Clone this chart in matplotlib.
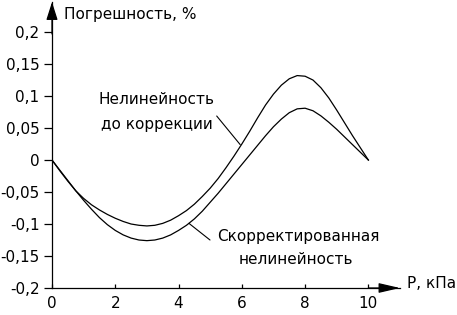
import matplotlib
matplotlib.use("Agg")
import matplotlib.pyplot as plt

# ---- data ----
p_uncorr = [0, 0.25, 0.5, 0.75, 1.0, 1.25, 1.5, 1.75, 2.0, 2.25, 2.5, 2.75, 3.0, 3.25, 3.5, 3.75,
            4.0, 4.25, 4.5, 4.75, 5.0, 5.25, 5.5, 5.75, 6.0, 6.25, 6.5, 6.75, 7.0, 7.25, 7.5, 7.75,
            8.0, 8.25, 8.5, 8.75, 9.0, 9.25, 9.5, 9.75, 10.0]
err_uncorr = [0, -0.017, -0.033, -0.048, -0.060, -0.070, -0.078, -0.085, -0.091, -0.096, -0.100,
              -0.102, -0.103, -0.102, -0.099, -0.094, -0.087, -0.079, -0.069, -0.057, -0.044,
              -0.029, -0.012, 0.006, 0.025, 0.045, 0.066, 0.086, 0.103, 0.117, 0.127, 0.132,
              0.131, 0.125, 0.113, 0.097, 0.078, 0.058, 0.038, 0.019, 0.0]

p_corr = [0, 0.25, 0.5, 0.75, 1.0, 1.25, 1.5, 1.75, 2.0, 2.25, 2.5, 2.75, 3.0, 3.25, 3.5, 3.75,
          4.0, 4.25, 4.5, 4.75, 5.0, 5.25, 5.5, 5.75, 6.0, 6.25, 6.5, 6.75, 7.0, 7.25, 7.5, 7.75,
          8.0, 8.25, 8.5, 8.75, 9.0, 9.25, 9.5, 9.75, 10.0]
err_corr = [0, -0.016, -0.032, -0.048, -0.063, -0.077, -0.090, -0.101, -0.110, -0.117, -0.122,
            -0.125, -0.126, -0.125, -0.122, -0.117, -0.110, -0.102, -0.092, -0.080, -0.066,
            -0.052, -0.037, -0.022, -0.007, 0.008, 0.023, 0.038, 0.052, 0.064, 0.074, 0.080,
            0.081, 0.077, 0.069, 0.059, 0.048, 0.036, 0.024, 0.012, 0.0]

x_ticks = [0, 2, 4, 6, 8, 10]
y_ticks = [-0.2, -0.15, -0.1, -0.05, 0, 0.05, 0.1, 0.15, 0.2]
y_tick_labels = ["-0,2", "-0,15", "-0,1", "-0,05", "0", "0,05", "0,1", "0,15", "0,2"]

y_label = "Погрешность, %"
x_label = "P, кПа"
label_uncorr = ["Нелинейность", "до коррекции"]
label_corr = ["Скорректированная", "нелинейность"]

# ---- figure ----
plt.rcParams['font.family'] = ['DejaVu Sans']
plt.rcParams['font.size'] = 11

W, H = 457, 315
fig = plt.figure(figsize=(W / 100, H / 100), dpi=100)

def fx(px):
    return px / W

def fy(py):
    return 1 - py / H

x_max = 11.0
y_top = 0.247
ax = fig.add_axes([fx(52), fy(288), (400 - 52) / W, (288 - 2) / H])
ax.set_xlim(0, x_max)
ax.set_ylim(-0.2, y_top)

ax.plot(p_uncorr, err_uncorr, color='black', lw=0.9)
ax.plot(p_corr, err_corr, color='black', lw=0.9)

for s in ['top', 'right']:
    ax.spines[s].set_visible(False)
for s in ['left', 'bottom']:
    ax.spines[s].set_linewidth(0.9)

ax.set_xticks(x_ticks)
ax.set_xticklabels([str(v) for v in x_ticks])
ax.set_yticks(y_ticks)
ax.set_yticklabels(y_tick_labels)
ax.tick_params(axis='y', direction='out', length=6, width=0.9, pad=3)
ax.tick_params(axis='x', direction='in', length=3, width=0.9, pad=6)

# arrow heads
ax.annotate('', xy=(x_max, -0.2), xytext=(x_max - 1.0, -0.2),
            arrowprops=dict(arrowstyle='-|>,head_length=1.3,head_width=0.3', mutation_scale=10,
                            color='black', lw=0.9, shrinkA=0, shrinkB=0),
            annotation_clip=False)
ax.annotate('', xy=(0, y_top), xytext=(0, y_top - 0.05),
            arrowprops=dict(arrowstyle='-|>,head_length=1.1,head_width=0.35', mutation_scale=10,
                            color='black', lw=0.9, shrinkA=0, shrinkB=0),
            annotation_clip=False)

# axis titles
fig.text(fx(64), fy(15), y_label, ha='left', va='center')
fig.text(fx(407), fy(284), x_label, ha='left', va='center')

# curve labels
fig.text(fx(156), fy(100), label_uncorr[0], ha='center', va='center')
fig.text(fx(157), fy(125), label_uncorr[1], ha='center', va='center')
fig.text(fx(298), fy(237), label_corr[0], ha='center', va='center')
fig.text(fx(296), fy(259), label_corr[1], ha='center', va='center')

# pointer lines
ax.annotate('', xy=(5.95, 0.024), xytext=(fx(216.7), fy(116)), textcoords='figure fraction',
            arrowprops=dict(arrowstyle='-', color='black', lw=0.8, shrinkA=0, shrinkB=0))
ax.annotate('', xy=(4.33, -0.099), xytext=(fx(210), fy(240)), textcoords='figure fraction',
            arrowprops=dict(arrowstyle='-', color='black', lw=0.8, shrinkA=0, shrinkB=0))

fig.savefig('out.png', dpi=100)
